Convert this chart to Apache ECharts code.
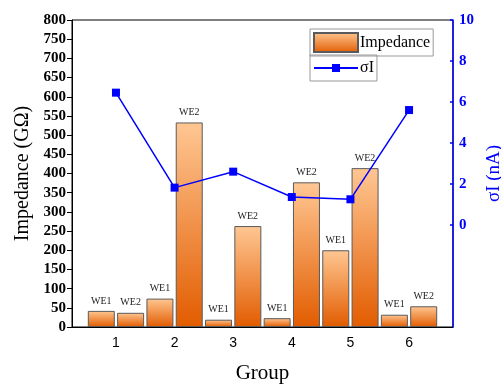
<!DOCTYPE html>
<html>
<head>
<meta charset="utf-8">
<script src="https://cdn.jsdelivr.net/npm/echarts@6/dist/echarts.min.js"></script>
<style>
  html, body { margin: 0; padding: 0; background: #fff; }
  #chart { width: 501px; height: 385px; }
</style>
</head>
<body>
<div id="chart"></div>
<script>
// Electrode groups and the two working electrodes inside each group
const groups = [1, 2, 3, 4, 5, 6];
const electrodes = ['WE1', 'WE2'];

// Impedance (GΩ) per group: [WE1, WE2]
const impedanceWE1 = [42, 74, 19, 23, 200, 32];
const impedanceWE2 = [37, 533, 263, 377, 414, 54];

// Current deviation σI (nA) per group
const sigmaI = [6.45, 1.81, 2.59, 1.35, 1.24, 5.6];

// Tick labels
const impedanceTicks = [0, 50, 100, 150, 200, 250, 300, 350, 400, 450, 500, 550, 600, 650, 700, 750, 800];
const sigmaTicks = [0, 2, 4, 6, 8, 10];

// Each WE bar sits a quarter group left / right of its group tick
const barPoints = [];
const barNames = [];
groups.forEach((g, i) => {
  barPoints.push([g - 0.25, impedanceWE1[i]]);
  barNames.push(electrodes[0]);
  barPoints.push([g + 0.25, impedanceWE2[i]]);
  barNames.push(electrodes[1]);
});
const linePoints = groups.map((g, i) => [g, sigmaI[i]]);

const serif = 'Liberation Serif';
const chart = echarts.init(document.getElementById('chart'));

chart.setOption({
  animation: false,
  grid: {
    left: 72, right: 48, top: 20, bottom: 58,
    outerBoundsMode: 'none',
    containLabel: false,
    show: true, borderColor: '#000', borderWidth: 1
  },
  legend: [
    {
      data: [{ name: 'Impedance', icon: 'rect' }],
      left: 310, top: 29,
      padding: [3, 3, 3, 3],
      itemWidth: 44, itemHeight: 19,
      borderColor: '#999', borderWidth: 1,
      textStyle: { fontFamily: serif, fontSize: 16, color: '#000', padding: [0, 0, 0, -3] }
    },
    {
      data: ['σI'],
      left: 310, top: 55,
      padding: [5, 3, 5, 3],
      itemWidth: 44, itemHeight: 10,
      borderColor: '#999', borderWidth: 1,
      textStyle: { fontFamily: serif, fontSize: 16, color: '#000', padding: [0, 0, 0, -3] }
    }
  ],
  xAxis: {
    type: 'value',
    min: 0.25, max: 6.75,
    name: 'Group',
    nameLocation: 'middle',
    nameGap: 36,
    nameTextStyle: { fontFamily: serif, fontSize: 21, color: '#000' },
    splitLine: { show: false },
    axisLine: { lineStyle: { color: '#000', width: 1 } },
    axisTick: { show: false },
    axisLabel: {
      customValues: groups,
      fontFamily: 'Liberation Sans', fontSize: 14, color: '#000', margin: 9
    }
  },
  yAxis: [
    {
      type: 'value',
      min: 0, max: 800, interval: 50,
      name: 'Impedance (GΩ)',
      nameLocation: 'middle',
      nameGap: 36,
      nameTextStyle: { fontFamily: serif, fontSize: 20, color: '#000' },
      splitLine: { show: false },
      axisLine: { show: true, lineStyle: { color: '#000', width: 1 } },
      axisTick: { show: true, length: 5, lineStyle: { color: '#000' } },
      axisLabel: {
        customValues: impedanceTicks,
        fontFamily: serif, fontWeight: 'bold', fontSize: 15, color: '#000', margin: 6
      }
    },
    {
      type: 'value',
      min: -5, max: 10,
      position: 'right',
      name: 'σI (nA)',
      nameLocation: 'middle',
      nameGap: 30,
      nameRotate: 90,
      nameTextStyle: { fontFamily: serif, fontSize: 19, color: '#0000ff' },
      splitLine: { show: false },
      axisLine: { show: true, lineStyle: { color: '#0000ff', width: 1.5 } },
      axisTick: { show: true, inside: true, length: 3, customValues: sigmaTicks, lineStyle: { color: '#0000ff', width: 1.5 } },
      axisLabel: {
        customValues: sigmaTicks,
        fontFamily: serif, fontWeight: 'bold', fontSize: 15, color: '#0000ff', margin: 6
      }
    }
  ],
  series: [
    {
      name: 'Impedance',
      type: 'bar',
      xAxisIndex: 0, yAxisIndex: 0,
      barWidth: 27,
      data: barPoints,
      itemStyle: {
        color: new echarts.graphic.LinearGradient(0, 0, 0, 1, [
          { offset: 0, color: '#ffc793' },
          { offset: 1, color: '#e25c00' }
        ]),
        borderColor: '#5a5a5a',
        borderWidth: 1
      },
      label: {
        show: true,
        position: 'top',
        distance: 5,
        formatter: p => barNames[p.dataIndex],
        fontFamily: serif, fontSize: 10, color: '#222'
      }
    },
    {
      name: 'σI',
      type: 'line',
      xAxisIndex: 0, yAxisIndex: 1,
      data: linePoints,
      symbol: 'rect',
      symbolSize: 8,
      lineStyle: { color: '#0000ff', width: 1.5 },
      itemStyle: { color: '#0000ff' },
      z: 5
    }
  ]
});
</script>
</body>
</html>
